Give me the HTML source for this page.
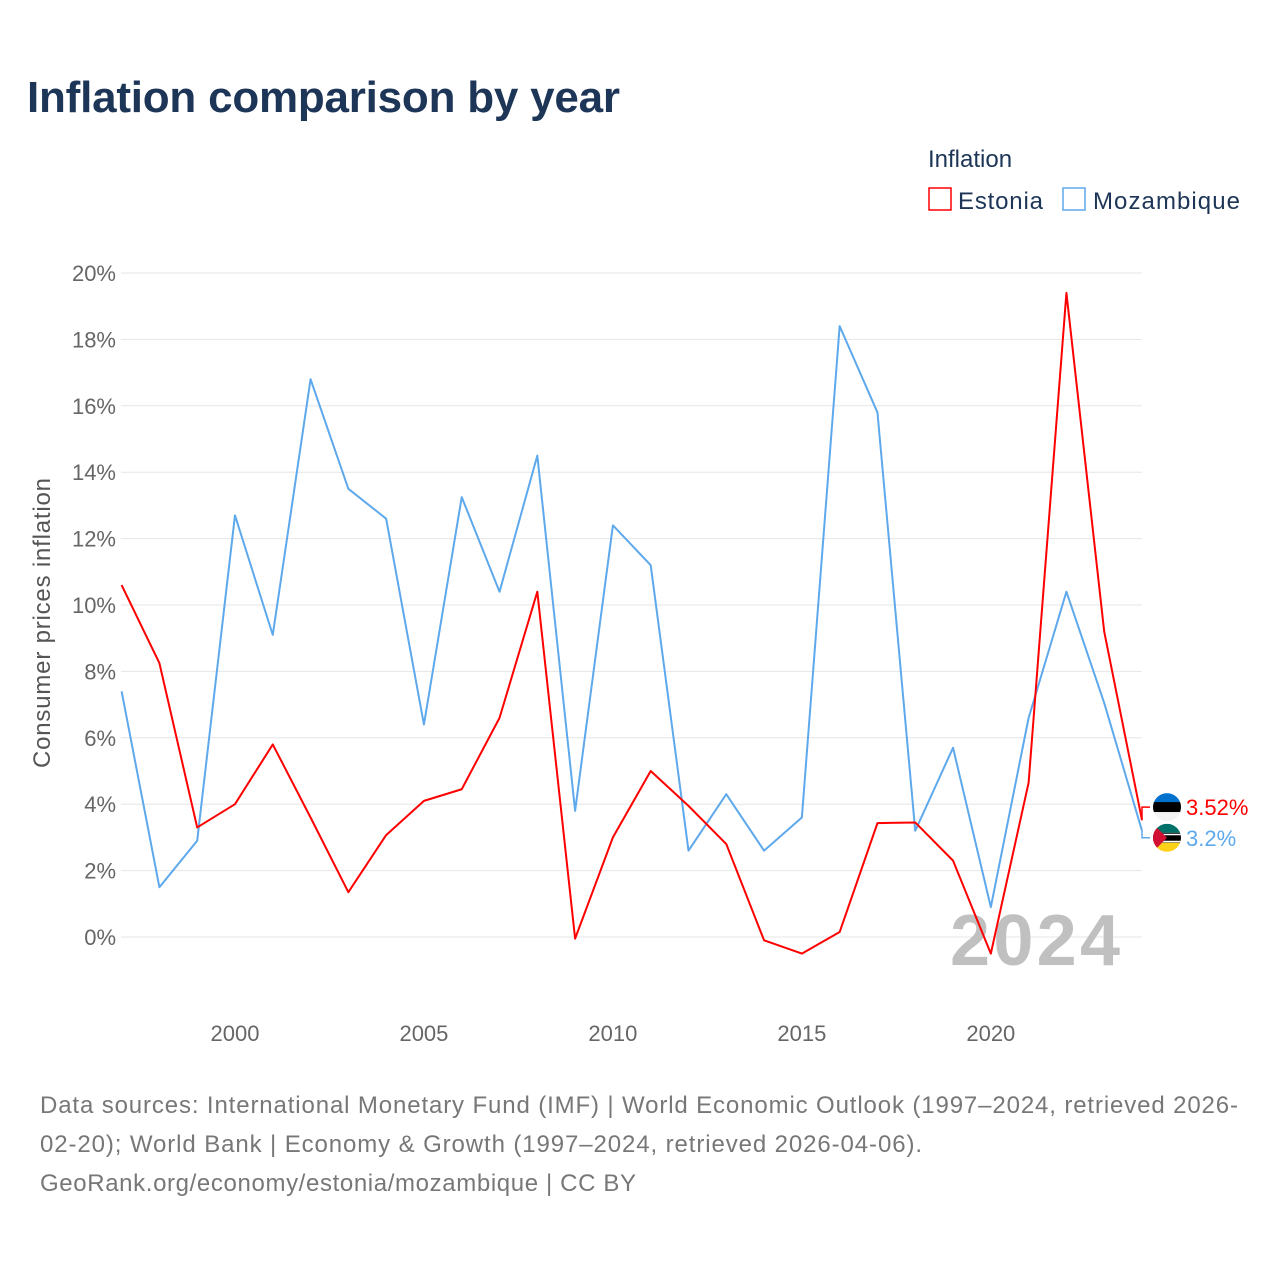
<!DOCTYPE html>
<html><head><meta charset="utf-8">
<style>
body{margin:0;width:1280px;height:1280px;background:#fff;font-family:"Liberation Sans",sans-serif;overflow:hidden}
</style></head>
<body>
<svg width="1280" height="1280" xmlns="http://www.w3.org/2000/svg" id="chart">
<text x="27" y="112" font-size="44" font-weight="bold" fill="#1d3557" textLength="593">Inflation comparison by year</text>
<text x="928" y="167" font-size="24" fill="#1d3557">Inflation</text>
<g><rect x="929" y="188" width="22" height="22" fill="none" stroke="#ff0000" stroke-width="1.5"/><text x="958" y="209" font-size="24" fill="#1d3557" textLength="85">Estonia</text></g>
<g><rect x="1063" y="188" width="22" height="22" fill="none" stroke="#5ea8ec" stroke-width="1.5"/><text x="1093" y="209" font-size="24" fill="#1d3557" textLength="147">Mozambique</text></g>
<g id="grid"></g><g id="yticks"></g><g id="xticks"></g>
<text x="950" y="965" font-size="72" font-weight="bold" fill="#c0c0c0" textLength="170">2024</text>
<text transform="translate(50,623) rotate(-90)" text-anchor="middle" font-size="24" fill="#555" textLength="290">Consumer prices inflation</text>
<g id="series"></g>
<text x="40" y="1113" font-size="24" fill="#777" textLength="1198">Data sources: International Monetary Fund (IMF) | World Economic Outlook (1997–2024, retrieved 2026-</text>
<text x="40" y="1152" font-size="24" fill="#777" textLength="882">02-20); World Bank | Economy &amp; Growth (1997–2024, retrieved 2026-04-06).</text>
<text x="40" y="1191" font-size="24" fill="#777" textLength="596">GeoRank.org/economy/estonia/mozambique | CC BY</text>
</svg>
<script>
const years=[1997,1998,1999,2000,2001,2002,2003,2004,2005,2006,2007,2008,2009,2010,2011,2012,2013,2014,2015,2016,2017,2018,2019,2020,2021,2022,2023,2024];
const estonia=[10.6,8.25,3.3,4.0,5.8,3.6,1.35,3.07,4.1,4.45,6.6,10.4,-0.05,3.0,5.0,3.95,2.8,-0.1,-0.5,0.15,3.43,3.45,2.3,-0.5,4.65,19.4,9.2,3.52];
const mozambique=[7.4,1.5,2.9,12.7,9.1,16.8,13.5,12.6,6.4,13.25,10.4,14.5,3.8,12.4,11.2,2.6,4.3,2.6,3.6,18.4,15.8,3.2,5.7,0.9,6.6,10.4,7.05,3.2];
const yTicks=[0,2,4,6,8,10,12,14,16,18,20];
const xTicks=[2000,2005,2010,2015,2020];
const NS="http://www.w3.org/2000/svg";
const xs=y=>121.6+(y-1997)*(1142-121.6)/27;
const ys=v=>937-v*33.2;
function mk(t,a,p){const e=document.createElementNS(NS,t);for(const k in a)e.setAttribute(k,a[k]);p.appendChild(e);return e;}
const grid=document.getElementById('grid'),yt=document.getElementById('yticks'),xt=document.getElementById('xticks'),se=document.getElementById('series');
yTicks.forEach(v=>{
 const l=mk('line',{x1:121,x2:1142,y1:ys(v),y2:ys(v),stroke:'#e6e6e6','stroke-width':1},grid);
 
 
 const t=mk('text',{x:116,y:ys(v)+8,'text-anchor':'end','font-size':22,fill:'#666'},yt);
 t.textContent=v+'%';
 
 
});
xTicks.forEach(v=>{
 const t=mk('text',{x:xs(v),y:1041,'text-anchor':'middle','font-size':22,fill:'#666'},xt);
 t.textContent=v;
 
 
});
function line(vals,color,name){
 const p=mk('polyline',{points:vals.map((v,i)=>xs(years[i])+','+ys(v)).join(' '),fill:'none',stroke:color,'stroke-width':2,'stroke-linejoin':'round'},se);
 
 
}
line(mozambique,'#5ea8ec','line-mozambique');
line(estonia,'#ff0000','line-estonia');
const last=years.length-1;
const ey=ys(estonia[last]),my=ys(mozambique[last]);
const eyl=ey-13,myl=my+7;
const c1=mk('path',{d:`M1142 ${ey} L1142 ${eyl} L1150 ${eyl}`,fill:'none',stroke:'#ff0000','stroke-width':1.5},se);

const c2=mk('path',{d:`M1142 ${my} L1142 ${myl} L1150 ${myl}`,fill:'none',stroke:'#5ea8ec','stroke-width':1.5},se);

const f1=mk('g',{},se);
const cp1=mk('clipPath',{id:'ce'},f1);mk('circle',{cx:1167,cy:eyl,r:14},cp1);
mk('rect',{x:1153,y:eyl-14,width:28,height:10,fill:'#0072ce','clip-path':'url(#ce)'},f1);
mk('rect',{x:1153,y:eyl-5,width:28,height:10,fill:'#000','clip-path':'url(#ce)'},f1);
mk('rect',{x:1153,y:eyl+5,width:28,height:10,fill:'#f4f4f4','clip-path':'url(#ce)'},f1);
const f2=mk('g',{},se);
const cp=mk('clipPath',{id:'cm'},f2);mk('circle',{cx:1167,cy:myl,r:14},cp);
mk('rect',{x:1153,y:myl-14,width:28,height:9,fill:'#007168','clip-path':'url(#cm)'},f2);
mk('rect',{x:1153,y:myl-5,width:28,height:10,fill:'#000','clip-path':'url(#cm)'},f2);
mk('rect',{x:1153,y:myl-4,width:28,height:1.5,fill:'#fff','clip-path':'url(#cm)'},f2);
mk('rect',{x:1153,y:myl+3,width:28,height:1.5,fill:'#fff','clip-path':'url(#cm)'},f2);
mk('rect',{x:1153,y:myl+5,width:28,height:10,fill:'#fcd116','clip-path':'url(#cm)'},f2);
mk('path',{d:`M1153 ${myl-14} L1167 ${myl} L1153 ${myl+14}Z`,fill:'#d21034','clip-path':'url(#cm)'},f2);
const t1=mk('text',{x:1186,y:eyl+8,'font-size':22,fill:'#ff0000'},se);t1.textContent=estonia[last]+'%';

const t2=mk('text',{x:1186,y:myl+8,'font-size':22,fill:'#5ea8ec'},se);t2.textContent=mozambique[last]+'%';

</script>
</body></html>
